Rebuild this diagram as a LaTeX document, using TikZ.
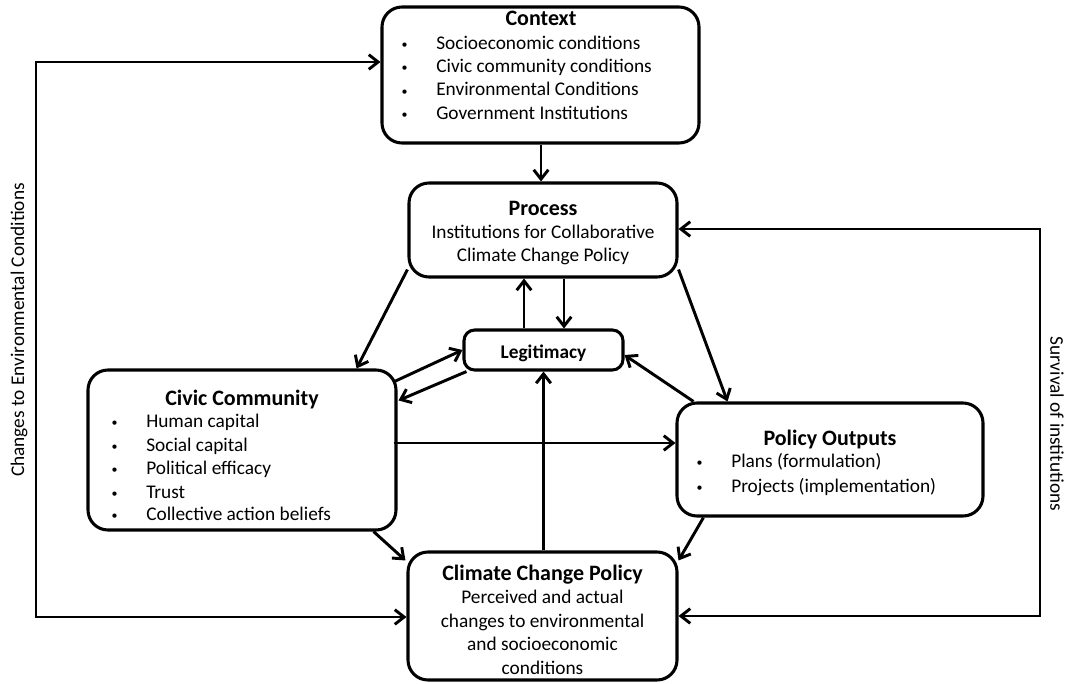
\documentclass[tikz,border=0pt]{standalone}
\usepackage{fontspec}
\setmainfont{Carlito}
\usetikzlibrary{arrows.meta,calc}

\tikzset{
  box/.style={draw, line width=2.3pt, rounded corners=15pt, inner sep=0pt},
  conn/.style={line width=2.2pt, -{Straight Barb[length=7pt,width=11pt]}},
  loop/.style={line width=2.2pt, {Straight Barb[length=7pt,width=11pt]}-{Straight Barb[length=7pt,width=11pt]}},
  txt/.style={font=\fontsize{14.5}{17}\selectfont, inner sep=0pt, anchor=base},
  item/.style={txt, anchor=base west},
  ttl/.style={font=\fontsize{16.5}{20}\selectfont\bfseries, inner sep=0pt, anchor=base}
}

\begin{document}
\begin{tikzpicture}[x=0.75pt, y=-0.75pt]
    \newcommand{\bul}[1]{\makebox[27pt][l]{\hspace{1pt}\raisebox{0.6pt}{\scalebox{0.62}{\textbullet}}}#1}
    \useasboundingbox (0,0) rectangle (1073,684);

    % boxes
    \node [box, minimum width=237.75pt, minimum height=102pt] (context) at (540.5,75) {};
    \node [box, minimum width=201pt, minimum height=70.5pt] (process) at (543,230) {};
    \node [box, rounded corners=8pt, minimum width=119.25pt, minimum height=30pt] (legit) at (543.5,350) {};
    \node [box, minimum width=231pt, minimum height=120pt] (civic) at (242,450) {};
    \node [box, minimum width=229.5pt, minimum height=84.75pt] (policy) at (830,459.5) {};
    \node [box, minimum width=201.75pt, minimum height=96pt] (climate) at (542.5,616) {};

    % context
    \node [ttl] (ctxtitle) at (541,26) {Context};
    \node [item] (ctx1) at (400,49.5) {\bul{Socioeconomic conditions}};
    \node [item] (ctx2) at (400,72.5) {\bul{Civic community conditions}};
    \node [item] (ctx3) at (400,96) {\bul{Environmental Conditions}};
    \node [item] (ctx4) at (400,119.5) {\bul{Government Institutions}};

    % process
    \node [ttl] (prtitle) at (543,215) {Process};
    \node [txt] (pr1) at (543,238.5) {Institutions for Collaborative};
    \node [txt] (pr2) at (543,262) {Climate Change Policy};

    \node [ttl, font=\fontsize{14.5}{17}\selectfont\bfseries] (legtitle) at (543.5,358) {Legitimacy};

    % civic community
    \node [ttl] (cvtitle) at (242,405) {Civic Community};
    \node [item] (cv1) at (110,427.5) {\bul{Human capital}};
    \node [item] (cv2) at (110,451) {\bul{Social capital}};
    \node [item] (cv3) at (110,474.5) {\bul{Political efficacy}};
    \node [item] (cv4) at (110,498) {\bul{Trust}};
    \node [item] (cv5) at (110,520.5) {\bul{Collective action beliefs}};

    % policy outputs
    \node [ttl] (potitle) at (830,445) {Policy Outputs};
    \node [item] (po1) at (695,467.5) {\bul{Plans (formulation)}};
    \node [item] (po2) at (695,492) {\bul{Projects (implementation)}};

    % climate change policy
    \node [ttl] (cctitle) at (542.5,580) {Climate Change Policy};
    \node [txt] (cc1) at (542.5,603) {Perceived and actual};
    \node [txt] (cc2) at (542.5,627) {changes to environmental};
    \node [txt] (cc3) at (542.5,650.5) {and socioeconomic};
    \node [txt] (cc4) at (542.5,674) {conditions};

    % side labels
    \node [txt, anchor=center, rotate=90] (envlabel) at (19,330) {Changes to Environmental Conditions};
    \node [txt, anchor=center, rotate=-90] (survlabel) at (1057,424) {Survival of institutions};

    % connectors
    \draw [conn] (context.south -| ctxtitle) -- (ctxtitle |- process.north);
    \draw [conn] ($(process.south west)+(0,-9)$) -- ($(civic.north east)+(-41,0)$);
    \draw [conn] ($(process.south east)+(0,-9)$) -- ($(policy.north west)+(52,0)$);

    \coordinate (up) at ($(legit.north)+(-19.5,0)$);
    \coordinate (dn) at ($(process.south)+(21,0)$);
    \draw [conn] (up) -- (up |- process.south);
    \draw [conn] (dn) -- (dn |- legit.north);

    \draw [conn] ($(civic.north east)+(-3,13)$) -- (legit.west);
    \draw [conn] ($(legit.south west)+(4,0)$) -- ($(civic.north east)+(1,32)$);
    \draw [conn] ($(policy.north west)+(18,0)$) -- ($(legit.east)+(0,5)$);

    \coordinate (cp) at ($(civic.east)+(-4,-7)$);
    \draw [conn] (cp) -- (cp -| policy.west);

    \draw [conn] (climate.north -| legtitle) -- (legtitle |- legit.south);
    \draw [conn] ($(civic.south east)+(-24,0)$) -- ($(climate.north west)+(-1,10)$);
    \draw [conn] ($(policy.south west)+(28,0)$) -- ($(climate.north east)+(0,10)$);

    % feedback loops
    \coordinate (lt) at (36,62);
    \coordinate (lb) at (36,617);
    \draw [loop] (context.west |- lt) -- (lt) -- (lb) -- (lb -| climate.west);
    \coordinate (rt) at (1040,229);
    \coordinate (rb) at (1040,616);
    \draw [loop] (rt -| process.east) -- (rt) -- (rb) -- (rb -| climate.east);

\end{tikzpicture}
\end{document}
